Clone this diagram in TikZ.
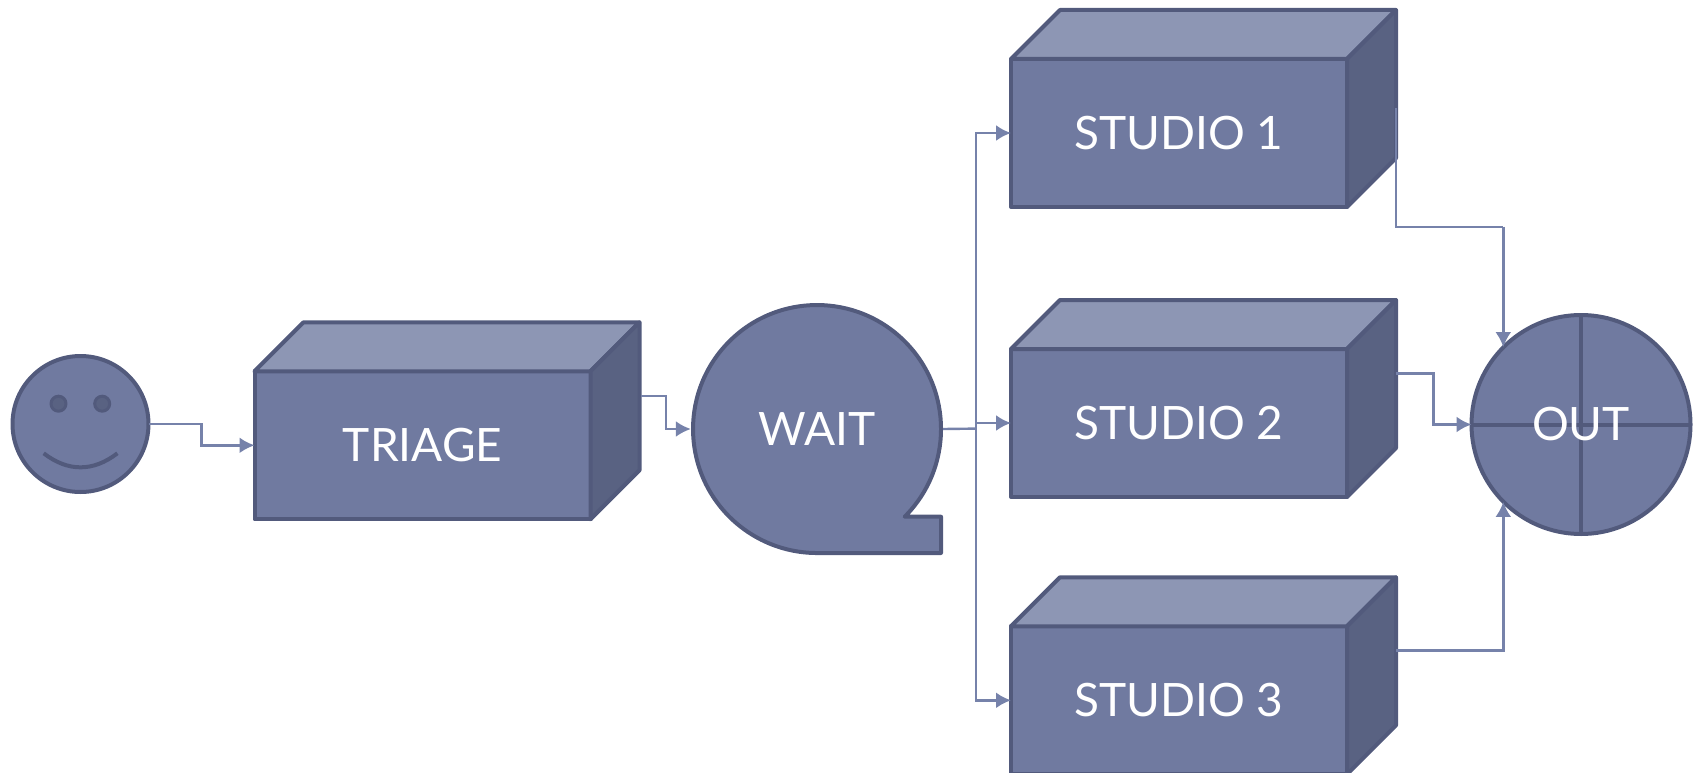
\documentclass[tikz,border=0pt]{standalone}
\usepackage{fontspec}
\setmainfont{Lato}
\usetikzlibrary{arrows.meta}
\definecolor{edgeC}{HTML}{525A7C}
\definecolor{frontC}{HTML}{707AA0}
\definecolor{topC}{HTML}{8D96B4}
\definecolor{sideC}{HTML}{596282}
\definecolor{connC}{HTML}{7682AA}
\newcommand{\lbl}[1]{\raisebox{-2pt}{#1}}
\tikzset{
  x=1pt,y=-1pt,
  shapeline/.style={draw=edgeC,line width=4pt,line join=round},
  frontface/.style={shapeline,fill=frontC,rectangle,anchor=north west,outer sep=0pt,inner sep=0pt,
    minimum width=336pt,minimum height=148pt,text=white,font=\fontsize{46}{50}\selectfont},
  topface/.style={shapeline,fill=topC},
  sideface/.style={shapeline,fill=sideC},
  roundface/.style={shapeline,fill=frontC,circle,inner sep=0pt,outer sep=0pt,text=white,
    font=\fontsize{46}{50}\selectfont},
  conn/.style={draw=connC,line width=2.4pt,-{Latex[length=15pt,width=16pt]}},
  wire/.style={draw=connC,line width=2.4pt},
}
\newcommand{\solidbox}[4]{%
  \node[frontface] (#1) at (#2,#3) {\lbl{#4}};
  \draw[topface] (#1.north west) -- ++(49,-49) -- ++(336,0) -- (#1.north east) -- cycle;
  \draw[sideface] (#1.north east) -- ++(49,-49) -- ++(0,148) -- (#1.south east) -- cycle;
}
\begin{document}
\begin{tikzpicture}
\useasboundingbox (0,0) rectangle (1696,773);
% face
\node[roundface,minimum size=136pt] (face) at (80.5,424) {};
\node[shapeline,fill=sideC,circle,inner sep=0pt,minimum size=15pt,line width=3pt] (eyeL) at (58.5,403.7) {};
\node[shapeline,fill=sideC,circle,inner sep=0pt,minimum size=15pt,line width=3pt] (eyeR) at (102.2,403.7) {};
\draw[draw=edgeC,line width=4pt] (43.7,453.3) .. controls (68,472) and (93,472) .. (117.4,453.3);
% boxes
\solidbox{triage}{254.5}{371.3}{TRIAGE}
\solidbox{sone}{1011}{59}{STUDIO 1}
\solidbox{stwo}{1011}{349}{STUDIO 2}
\solidbox{sthree}{1011}{626.3}{STUDIO 3}
% wait
\draw[shapeline,fill=frontC] (904.7,516.7) arc[start angle=45,end angle=-270,radius=124] -- (941,553) -- (941,516.7) -- cycle;
\node[circle,inner sep=0pt,minimum size=252pt,text=white,font=\fontsize{46}{50}\selectfont] (wait) at (817,429) {\lbl{WAIT}};
% out
\node[roundface,minimum size=219pt,path picture={
  \draw[draw=edgeC,line width=4pt] (path picture bounding box.north) -- (path picture bounding box.south);
  \draw[draw=edgeC,line width=4pt] (path picture bounding box.west) -- (path picture bounding box.east);
}] (out) at (1581,424.5) {\lbl{OUT}};
% connector helpers
\coordinate (bendA) at (201.3,434);
\coordinate (triOut) at (640.6,395.7);
\coordinate (bendB) at (666,412);
\coordinate (bendC) at (975.7,428.6);
\coordinate (sOneOut) at (1396,108);
\coordinate (bendD) at (1503.3,226.7);
\coordinate (sTwoOut) at (1396,373.3);
\coordinate (bendE) at (1433.3,400);
\coordinate (sThreeOut) at (1396,650.5);
% connectors
\draw[conn] (face.east) -| (bendA) |- (triage.west);
\draw[conn] (triOut) -| (bendB) |- (wait.west);
\draw[wire] (wait.east) -- (bendC);
\draw[conn] (bendC) |- (sone.west);
\draw[conn] (bendC) |- (stwo.west);
\draw[conn] (bendC) |- (sthree.west);
\draw[wire] (sOneOut) |- (bendD);
\draw[conn] (bendD) -- (bendD |- out.135);
\draw[conn] (sTwoOut) -| (bendE) |- (out.west);
\draw[conn] (sThreeOut) -| (bendD |- out.225);
\end{tikzpicture}
\end{document}
